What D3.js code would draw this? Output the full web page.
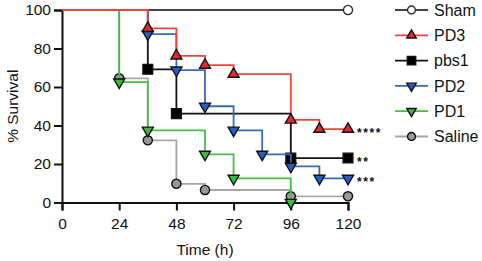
<!DOCTYPE html>
<html>
<head>
<meta charset="utf-8">
<script src="https://cdn.jsdelivr.net/npm/d3@7"></script>
<style>
  body { margin: 0; background: #fff; }
  svg { font-family: "Liberation Sans", Arial, sans-serif; }
</style>
</head>
<body>
<div id="chart"></div>
<script>
// time (h) and % survival for each group
const shamT = [0, 120];
const shamV = [100, 100];
const pd3T = [0, 36, 48, 60, 72, 96, 108, 120];
const pd3V = [100, 90.5, 76.2, 71.4, 66.7, 42.9, 38.1, 38.1];
const pbs1T = [0, 36, 48, 96, 120];
const pbs1V = [100, 69.2, 46.2, 23.1, 23.1];
const pd2T = [0, 36, 48, 60, 72, 84, 96, 108, 120];
const pd2V = [100, 87.5, 68.75, 50, 37.5, 25, 18.75, 12.5, 12.5];
const pd1T = [0, 24, 36, 60, 72, 96];
const pd1V = [100, 62.5, 37.5, 25, 12.5, 0];
const salineT = [0, 24, 36, 48, 60, 96, 120];
const salineV = [100, 64.5, 32.3, 9.7, 6.5, 3.2, 3.2];

const xTicks = [0, 24, 48, 72, 96, 120];
const yTicks = [0, 20, 40, 60, 80, 100];

const series = [
    { name: "Sham", t: shamT, v: shamV, line: "#444", fill: "#fff", shape: "circle", stars: "" },
    { name: "PD3", t: pd3T, v: pd3V, line: "#f0443a", fill: "#e8282a", shape: "up", stars: "****" },
    { name: "pbs1", t: pbs1T, v: pbs1V, line: "#111", fill: "#000", shape: "square", stars: "**" },
    { name: "PD2", t: pd2T, v: pd2V, line: "#3a68bd", fill: "#2360bf", shape: "down", stars: "***" },
    { name: "PD1", t: pd1T, v: pd1V, line: "#45be45", fill: "#3dba3d", shape: "down", stars: "" },
    { name: "Saline", t: salineT, v: salineV, line: "#a6a6a6", fill: "#999", shape: "circle", stars: "" }
];
const drawOrder = ["Sham", "Saline", "PD1", "pbs1", "PD2", "PD3"];

const W = 482, H = 261;
const svg = d3.select("#chart").append("svg").attr("width", W).attr("height", H);

const x = d3.scaleLinear().domain([0, 120]).range([62, 348]);
const y = d3.scaleLinear().domain([0, 100]).range([202.5, 10]);

const sizes = { circle: 66, square: 95, up: 52, down: 52 };
function marker(g, s, cx, cy, k) {
    const type = s.shape === "circle" ? d3.symbolCircle : s.shape === "square" ? d3.symbolSquare : d3.symbolTriangle;
    const sym = d3.symbol().type(type).size(sizes[s.shape] * k);
    g.append("path")
        .attr("d", sym())
        .attr("transform", `translate(${cx},${cy})` + (s.shape === "down" ? " rotate(180)" : ""))
        .attr("fill", s.fill)
        .attr("stroke", s.name === "Sham" ? "#333" : "#111")
        .attr("stroke-width", 1.4);
}

// axes
const xAxis = d3.axisBottom(x).tickValues(xTicks).tickSize(8).tickPadding(7);
const yAxis = d3.axisLeft(y).tickValues(yTicks).tickSize(8).tickPadding(3);

const gx = svg.append("g").attr("transform", `translate(0,${y(0)})`).call(xAxis);
const gy = svg.append("g").attr("transform", `translate(${x(0)},0)`).call(yAxis);
[gx, gy].forEach(g => {
    g.select(".domain").attr("stroke", "#111").attr("stroke-width", 2);
    g.selectAll(".tick line").attr("stroke", "#111").attr("stroke-width", 2);
    g.selectAll(".tick text").attr("fill", "#111").style("font-size", "15.5px");
});

svg.append("text")
    .attr("x", x(60)).attr("y", 255)
    .attr("text-anchor", "middle")
    .style("font-size", "15.5px").attr("fill", "#111")
    .text("Time (h)");

svg.append("text")
    .attr("transform", `translate(18,${y(50)}) rotate(-90)`)
    .attr("text-anchor", "middle")
    .style("font-size", "15.5px").attr("fill", "#111")
    .text("% Survival");

// survival curves
const line = d3.line().x(d => x(d[0])).y(d => y(d[1])).curve(d3.curveStepAfter);
drawOrder.forEach(name => {
    const s = series.find(d => d.name === name);
    const pts = s.t.map((t, i) => [t, s.v[i]]);
    const g = svg.append("g");
    g.append("path")
        .datum(pts)
        .attr("fill", "none")
        .attr("stroke", s.line)
        .attr("stroke-width", 1.8)
        .attr("d", line);
    pts.slice(1).forEach(p => marker(g, s, x(p[0]), y(p[1]), 1));
    if (s.stars) {
        const last = pts[pts.length - 1];
        svg.append("text")
            .attr("x", x(last[0]) + 9)
            .attr("y", y(last[1]) + 7.5)
            .style("font-size", "12px")
            .style("font-weight", "bold")
            .style("letter-spacing", "1.6px")
            .attr("fill", "#111")
            .text(s.stars);
    }
});

// legend
const legend = svg.append("g");
series.forEach((s, i) => {
    const ly = 10 + i * 25.3;
    const g = legend.append("g");
    g.append("line")
        .attr("x1", 395).attr("x2", 428).attr("y1", ly).attr("y2", ly)
        .attr("stroke", s.line).attr("stroke-width", 1.8);
    marker(g, s, 411.5, ly, 0.75);
    g.append("text")
        .attr("x", 434).attr("y", ly)
        .attr("dy", "0.36em")
        .style("font-size", "16px").attr("fill", "#111")
        .text(s.name);
});
</script>
</body>
</html>
